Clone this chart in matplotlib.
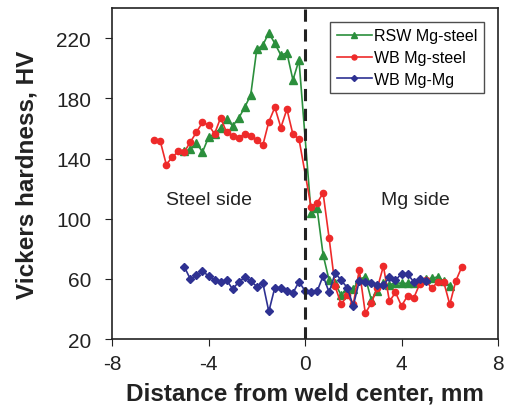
import numpy as np
import matplotlib
matplotlib.use('Agg')
import matplotlib.pyplot as plt

plt.rcParams['font.family'] = ['Liberation Sans', 'DejaVu Sans']
plt.rcParams['axes.unicode_minus'] = False

# RSW Mg-steel (green triangles)
rsw_x = [-5.0, -4.75, -4.5, -4.25, -4.0, -3.75, -3.5, -3.25, -3.0, -2.75, -2.5, -2.25,
         -2.0, -1.75, -1.5, -1.25, -1.0, -0.75, -0.5, -0.25,
         0.25, 0.5, 0.75, 1.0, 1.25, 1.5, 1.75, 2.0, 2.25, 2.5, 2.75, 3.0,
         3.25, 3.5, 3.75, 4.0, 4.25, 4.5, 4.75, 5.0, 5.25, 5.5, 5.75, 6.0]
rsw_hv = [144.7, 146.3, 150.3, 144.3, 154, 156.4, 160.2, 166.2, 161.7, 166.8, 174, 182.3,
          212.5, 215.4, 223.5, 216.5, 208.7, 210.3, 192.2, 205.4,
          104, 107, 76, 59, 57, 49, 54, 53, 60, 61, 46, 52,
          57, 56, 57.5, 57, 57, 57, 59, 59.7, 60.4, 61.3, 58.6, 55.3]

# WB Mg-steel (red circles)
wbs_x = [-6.25, -6.0, -5.75, -5.5, -5.25, -5.0, -4.75, -4.5, -4.25, -4.0, -3.75, -3.5,
         -3.25, -3.0, -2.75, -2.5, -2.25, -2.0, -1.75, -1.5, -1.25, -1.0, -0.75, -0.5,
         -0.25, 0.25, 0.5, 0.75, 1.0, 1.25, 1.5, 1.75, 2.0, 2.25, 2.5, 2.75, 3.0,
         3.25, 3.5, 3.75, 4.0, 4.25, 4.5, 4.75, 5.0, 5.25, 5.5, 5.75, 6.0, 6.25, 6.5]
wbs_hv = [152, 151.6, 136, 141, 144.7, 144.5, 151, 157.5, 164, 162.4, 156.4, 167,
          157.5, 155, 153.6, 156.4, 155, 152, 148.7, 164.4, 174, 160.6, 172.8, 156,
          153, 108, 110.5, 117, 87, 55, 43, 49, 43, 66, 37, 44, 54,
          68.5, 45, 51, 42, 48.7, 47, 56.4, 59.3, 53.6, 58, 58, 43, 58.6, 68]

# WB Mg-Mg (blue diamonds)
wbm_x = [-5.0, -4.75, -4.5, -4.25, -4.0, -3.75, -3.5, -3.25, -3.0, -2.75, -2.5, -2.25,
         -2.0, -1.75, -1.5, -1.25, -1.0, -0.75, -0.5, -0.25, 0.0, 0.25, 0.5, 0.75,
         1.0, 1.25, 1.5, 1.75, 2.0, 2.25, 2.5, 2.75, 3.0, 3.25, 3.5, 3.75, 4.0,
         4.25, 4.5, 4.75, 5.0]
wbm_hv = [68, 59.7, 62.6, 65.2, 61.9, 59.1, 58.2, 59.3, 53.1, 57.9, 60.9, 58.6,
          54.9, 57.3, 38.3, 54.2, 54.2, 52, 50.5, 58.2, 52, 51, 51.6, 62,
          51, 64, 59, 54.2, 42, 58.6, 58.2, 57.5, 55.8, 56, 61, 59, 63.5,
          63.5, 58, 59.7, 58.6]

fig = plt.figure(figsize=(5.1, 4.14), dpi=100)
ax = fig.add_axes([0.2196, 0.1787, 0.7569, 0.7993])

ax.plot(rsw_x, rsw_hv, color='#2b8f3c', marker='^', markersize=5.5, lw=1.2,
        label='RSW Mg-steel')
ax.plot(wbs_x, wbs_hv, color='#ee2a2a', marker='o', markersize=4.5, lw=1.2,
        label='WB Mg-steel')
ax.plot(wbm_x, wbm_hv, color='#2e3192', marker='D', markersize=3.8, lw=1.2,
        label='WB Mg-Mg')

ax.axvline(0, color='#222222', lw=2.2, dashes=(4, 2.5), zorder=5)

ax.set_xlim(-8, 8)
ax.set_ylim(20, 240)
ax.set_xticks([-8, -4, 0, 4, 8])
ax.set_yticks([20, 60, 100, 140, 180, 220])
ax.tick_params(direction='out', length=5, labelsize=15, colors='#222222')
ax.tick_params(axis='y', pad=10)
ax.tick_params(axis='x', pad=6)
for s in ax.spines.values():
    s.set_linewidth(1.2)
    s.set_color('#222222')

ax.set_xlabel('Distance from weld center, mm', fontsize=17.5, fontweight='bold',
              color='#222222')
ax.set_ylabel('Vickers hardness, HV', fontsize=17.5, fontweight='bold',
              color='#222222')
ax.xaxis.set_label_coords(0.5, -0.128)
ax.yaxis.set_label_coords(-0.19, 0.5)

ax.text(-5.76, 112.7, 'Steel side', fontsize=14, va='center', color='#222222')
ax.text(3.15, 112.7, 'Mg side', fontsize=14, va='center', color='#222222')

leg = ax.legend(loc='upper right', bbox_to_anchor=(0.964, 0.958), fontsize=11.5,
                frameon=True, fancybox=False, edgecolor='#222222',
                handlelength=2.2, handletextpad=0.15, borderpad=0.4,
                labelspacing=0.42, borderaxespad=0, markerscale=0.8)
leg.get_frame().set_linewidth(1.0)

fig.savefig('out.png', dpi=100)
